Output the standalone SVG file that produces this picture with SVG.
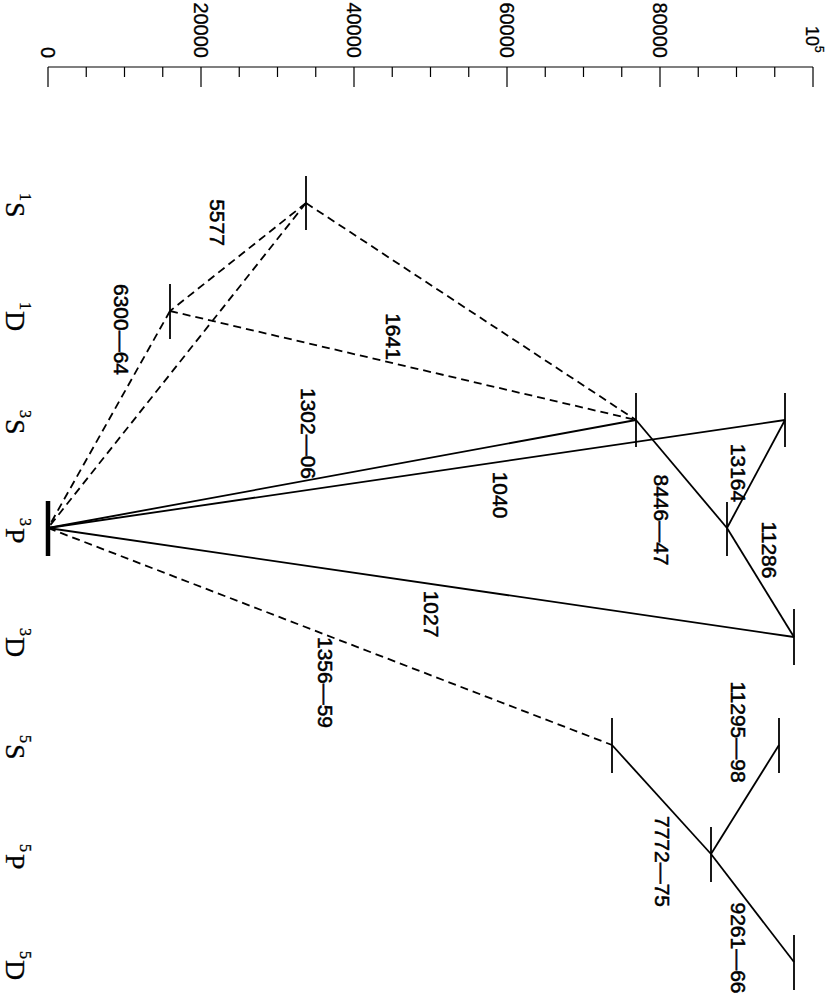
<svg xmlns="http://www.w3.org/2000/svg" width="830" height="997" viewBox="0 0 830 997">
<style>
.ax{stroke:#000;stroke-width:1.2;fill:none}
.lvl{stroke:#000;stroke-width:1.8;fill:none}
.gnd{stroke:#000;stroke-width:4.5;fill:none}
.tr{stroke:#000;stroke-width:1.8;fill:none}
.fb{stroke-dasharray:8 5}
.axt{font-family:"Liberation Sans",Arial,sans-serif;font-size:20px;fill:#000;stroke:#000;stroke-width:0.3}
.lab{font-family:"Liberation Sans",Arial,sans-serif;font-size:21px;fill:#000;stroke:#000;stroke-width:0.5;text-anchor:middle}
.term{font-family:"Liberation Serif","Times New Roman",serif;font-size:28px;fill:#000;stroke:#000;stroke-width:0.3}
.sup{font-size:16px}
</style>
<rect width="830" height="997" fill="#fff"/>
<g id="axis">
<line class="ax" x1="48" y1="67" x2="813" y2="67"/>
<path class="ax" d="M48 67V87M201 67V87M354 67V87M507 67V87M660 67V87M813 67V87"/>
<path class="ax" d="M86.25 67V77M124.5 67V77M162.75 67V77M239.25 67V77M277.5 67V77M315.75 67V77M392.25 67V77M430.5 67V77M468.75 67V77M545.25 67V77M583.5 67V77M621.75 67V77M698.25 67V77M736.5 67V77M774.75 67V77"/>
<text class="axt" text-anchor="end" transform="translate(41,58) rotate(90)">0</text>
<text class="axt" text-anchor="end" transform="translate(194,58) rotate(90)">20000</text>
<text class="axt" text-anchor="end" transform="translate(347,58) rotate(90)">40000</text>
<text class="axt" text-anchor="end" transform="translate(500,58) rotate(90)">60000</text>
<text class="axt" text-anchor="end" transform="translate(653,58) rotate(90)">80000</text>
<text class="axt" transform="translate(806,26) rotate(90)"><tspan font-size="18">10</tspan><tspan font-size="12" dy="-9">5</tspan></text>
</g>
<g id="terms">
<text class="term" transform="translate(6,203) rotate(90)"><tspan class="sup" x="-10" y="-14">1</tspan><tspan x="-1" y="0">S</tspan></text>
<text class="term" transform="translate(6,311) rotate(90)"><tspan class="sup" x="-9" y="-14">1</tspan><tspan x="0" y="0">D</tspan></text>
<text class="term" transform="translate(6,420) rotate(90)"><tspan class="sup" x="-10" y="-14">3</tspan><tspan x="-1" y="0">S</tspan></text>
<text class="term" transform="translate(6,528) rotate(90)"><tspan class="sup" x="-10" y="-14">3</tspan><tspan x="0" y="0">P</tspan></text>
<text class="term" transform="translate(6,637) rotate(90)"><tspan class="sup" x="-9" y="-14">3</tspan><tspan x="0" y="0">D</tspan></text>
<text class="term" transform="translate(6,745) rotate(90)"><tspan class="sup" x="-10" y="-14">5</tspan><tspan x="-1" y="0">S</tspan></text>
<text class="term" transform="translate(6,854) rotate(90)"><tspan class="sup" x="-10" y="-14">5</tspan><tspan x="0" y="0">P</tspan></text>
<text class="term" transform="translate(6,960) rotate(90)"><tspan class="sup" x="-9" y="-14">5</tspan><tspan x="0" y="0">D</tspan></text>
</g>
<g id="level-1S"><line class="lvl" x1="306" y1="176" x2="306" y2="230"/></g>
<g id="level-1D"><line class="lvl" x1="170" y1="284" x2="170" y2="339"/></g>
<g id="level-3S"><line class="lvl" x1="636" y1="393" x2="636" y2="447"/></g>
<g id="level-3S-upper"><line class="lvl" x1="785" y1="393" x2="785" y2="447"/></g>
<g id="level-3P"><line class="gnd" x1="48" y1="501" x2="48" y2="556"/></g>
<g id="level-3P-upper"><line class="lvl" x1="727" y1="502" x2="727" y2="556"/></g>
<g id="level-3D"><line class="lvl" x1="794" y1="609" x2="794" y2="665"/></g>
<g id="level-5S"><line class="lvl" x1="612" y1="718" x2="612" y2="773"/></g>
<g id="level-5S-upper"><line class="lvl" x1="779" y1="718" x2="779" y2="773"/></g>
<g id="level-5P"><line class="lvl" x1="711" y1="827" x2="711" y2="882"/></g>
<g id="level-5D"><line class="lvl" x1="794" y1="935" x2="794" y2="990"/></g>
<g id="connectors">
<line class="tr fb" x1="306" y1="203" x2="170" y2="311"/>
<line class="tr fb" x1="306" y1="203" x2="48" y2="528"/>
<line class="tr fb" x1="170" y1="311" x2="48" y2="528"/>
<line class="tr fb" x1="170" y1="311" x2="636" y2="420"/>
<line class="tr fb" x1="306" y1="203" x2="636" y2="420"/>
<line class="tr fb" x1="48" y1="528" x2="612" y2="745"/>
<line class="tr" x1="48" y1="528" x2="636" y2="420"/>
<line class="tr" x1="48" y1="528" x2="785" y2="420"/>
<line class="tr" x1="48" y1="528" x2="794" y2="637"/>
<line class="tr" x1="636" y1="420" x2="727" y2="528"/>
<line class="tr" x1="727" y1="528" x2="794" y2="637"/>
<line class="tr" x1="785" y1="420" x2="727" y2="528"/>
<line class="tr" x1="612" y1="745" x2="711" y2="854"/>
<line class="tr" x1="711" y1="854" x2="794" y2="962"/>
<line class="tr" x1="711" y1="854" x2="779" y2="745"/>
</g>
<g id="transition-labels">
<text class="lab" transform="translate(209.5,222.5) rotate(90)">5577</text>
<text class="lab" transform="translate(113.5,329.5) rotate(90)">6300—64</text>
<text class="lab" transform="translate(385.5,336.5) rotate(90)">1641</text>
<text class="lab" transform="translate(300.5,433.5) rotate(90)">1302—06</text>
<text class="lab" transform="translate(492.5,495) rotate(90)">1040</text>
<text class="lab" transform="translate(653.5,520) rotate(90)">8446—47</text>
<text class="lab" transform="translate(730.5,473) rotate(90)">13164</text>
<text class="lab" transform="translate(761.5,550) rotate(90)">11286</text>
<text class="lab" transform="translate(423.5,614) rotate(90)">1027</text>
<text class="lab" transform="translate(317.5,682.5) rotate(90)">1356—59</text>
<text class="lab" transform="translate(730.5,732) rotate(90)">11295—98</text>
<text class="lab" transform="translate(654.5,861.5) rotate(90)">7772—75</text>
<text class="lab" transform="translate(730.5,948) rotate(90)">9261—66</text>
</g>
</svg>
